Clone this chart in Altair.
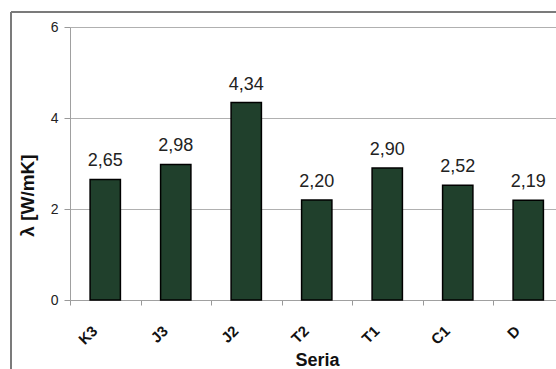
import altair as alt
import pandas as pd

# Thermal conductivity per sample series
series = ["K3", "J3", "J2", "T2", "T1", "C1", "D"]
lambda_values = [2.65, 2.98, 4.34, 2.20, 2.90, 2.52, 2.19]
y_ticks = [0, 2, 4, 6]

df = pd.DataFrame({"seria": series, "lam": lambda_values})

FONT = "Liberation Sans"
BAR_FILL = "#20402C"

x_enc = alt.X(
    "seria:N",
    sort=series,
    title="Seria",
    scale=alt.Scale(range=[0, 493.5], paddingInner=0, paddingOuter=0),
    axis=alt.Axis(
        labelAngle=-45,
        labelAlign="right",
        labelBaseline="middle",
        labelPadding=23,
        labelOffset=-11,
        tickBand="extent",
        tickSize=5,
        grid=False,
    ),
)

y_enc = alt.Y(
    "lam:Q",
    title="λ [W/mK]",
    scale=alt.Scale(domain=[0, 6], nice=False),
    axis=alt.Axis(values=y_ticks, labelPadding=6, tickSize=6),
)

base = alt.Chart(df).encode(x=x_enc, y=y_enc)

bars = base.mark_bar(
    fill=BAR_FILL, stroke="#000000", strokeWidth=1.5,
    width=alt.RelativeBandSize(0.43),
)

labels = base.transform_calculate(
    txt="replace(format(datum.lam, '.2f'), '.', ',')"
).mark_text(
    font=FONT, fontSize=18, color="#222222", baseline="alphabetic", dy=-13,
).encode(text="txt:N")

# Chart-area frame (left and top edges)
frame_left = alt.Chart(df).mark_rule(color="#7a7a7a", strokeWidth=1).encode(
    x=alt.value(-59), y=alt.value(-15), y2=alt.value(400)
)
frame_top = alt.Chart(df).mark_rule(color="#7a7a7a", strokeWidth=1).encode(
    x=alt.value(-59), x2=alt.value(600), y=alt.value(-15)
)

chart = (
    alt.layer(bars, labels, frame_left, frame_top)
    .properties(
        width=486,
        height=273,
        autosize=alt.AutoSizeParams(type="none"),
        padding={"left": 70, "top": 27, "right": 0, "bottom": 69},
        background="white",
    )
    .configure_view(stroke=None)
    .configure_axis(
        labelFont=FONT,
        titleFont=FONT,
        titleFontWeight="bold",
        titleColor="#111111",
        tickColor="#999999",
        domainColor="#a0a0a0",
        gridColor="#b0b0b0",
    )
    .configure_axisX(
        labelFontSize=15,
        labelFontWeight="bold",
        labelColor="#111111",
        titleFontSize=18,
        titleX=247,
        titleY=65,
        titleAlign="center",
        titleBaseline="alphabetic",
    )
    .configure_axisY(
        labelFontSize=14,
        labelColor="#222222",
        titleFontSize=19,
        titleX=-43,
        titleY=168,
        titleAngle=270,
        titleAlign="center",
        titleBaseline="middle",
    )
)

chart.save("out.html", embed_options={"renderer": "svg", "actions": False})
